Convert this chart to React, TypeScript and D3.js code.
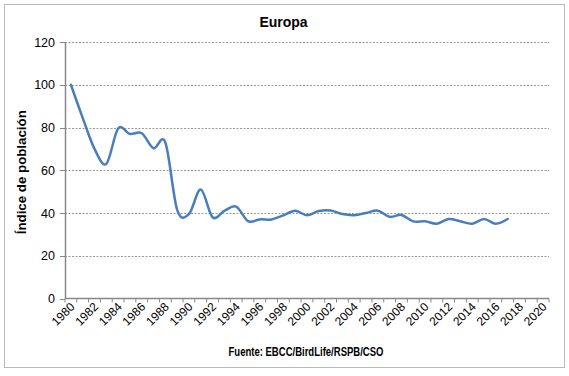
import React from "react";
import * as d3 from "d3";

const years: number[] = d3.range(1980, 2021);
const dataYears: number[] = d3.range(1980, 2018);
const values: number[] = [
  100, 84.5, 70, 63, 79.5, 77, 77.3, 70.3, 73, 41.5,
  39.5, 51, 38, 41, 43, 36.2, 37, 37, 38.9, 41,
  39, 40.9, 41.2, 39.5, 39, 40, 41.1, 38.2, 39.1, 36.1,
  36.1, 35, 37.2, 36.1, 35, 37.2, 35, 37.2,
];
const yTicks: number[] = [0, 20, 40, 60, 80, 100, 120];
const xLabelYears: number[] = years.filter((y) => y % 2 === 0);

const W = 569;
const H = 376;
const left = 65;
const right = 549;
const top = 42;
const bottom = 298.5;

export default function App() {
  const x = d3.scaleBand<number>().domain(years).range([left, right]).padding(0);
  const y = d3.scaleLinear().domain([0, 120]).range([bottom, top]);
  const cx = (yr: number) => (x(yr) as number) + x.bandwidth() / 2;
  const line = d3
    .line<number>()
    .x((_, i) => cx(dataYears[i]))
    .y((v) => y(v))
    .curve(d3.curveCatmullRom.alpha(0));
  const font = "Liberation Sans, Arial, sans-serif";
  const boundaries = d3.range(years.length + 1).map((k) => left + k * x.bandwidth());
  return (
    <svg width={W} height={H} style={{ position: "absolute", left: 0, top: 0 }} fontFamily={font}>
      <rect x={0} y={0} width={W} height={H} fill="#fff" />
      <rect x={4.5} y={4.5} width={560} height={363} fill="#fff" stroke="#b9b9b9" strokeWidth={1} />
      <text x={283.5} y={27} textAnchor="middle" fontWeight="bold" fontSize={14} fill="#000">
        Europa
      </text>
      {yTicks.filter((t) => t > 0).map((t) => (
        <line key={"g" + t} x1={left} x2={right} y1={Math.round(y(t)) + 0.5} y2={Math.round(y(t)) + 0.5}
          stroke="#9a9a9a" strokeWidth={1} strokeDasharray="2,1.5" />
      ))}
      {yTicks.map((t) => (
        <g key={"yt" + t}>
          <line x1={left - 5} x2={left} y1={Math.round(y(t)) + 0.5} y2={Math.round(y(t)) + 0.5} stroke="#888" strokeWidth={1} />
          <text x={55} y={y(t) + 4.5} textAnchor="end" fontSize={12.5} fill="#000">
            {t}
          </text>
        </g>
      ))}
      <line x1={left + 0.5} x2={left + 0.5} y1={top} y2={bottom} stroke="#888" strokeWidth={1.5} />
      <line x1={left} x2={right} y1={bottom} y2={bottom} stroke="#888" strokeWidth={1.5} />
      {boundaries.map((b, k) => (
        <line key={"xt" + k} x1={b} x2={b} y1={bottom} y2={bottom + 4} stroke="#888" strokeWidth={1} />
      ))}
      {xLabelYears.map((yr) => (
        <text key={"xl" + yr} transform={`translate(${cx(yr) + 4.5},${bottom + 9}) rotate(-45)`}
          textAnchor="end" fontSize={12} fill="#000">
          {yr}
        </text>
      ))}
      <text transform={`translate(26,${(top + bottom) / 2 + 2}) rotate(-90)`} textAnchor="middle"
        fontWeight="bold" fontSize={12.5} fill="#000" textLength={124} lengthAdjust="spacingAndGlyphs">
        Índice de población
      </text>
      <text x={306} y={356} textAnchor="middle" fontWeight="bold" fontSize={12} fill="#000"
        textLength={155} lengthAdjust="spacingAndGlyphs">
        Fuente: EBCC/BirdLife/RSPB/CSO
      </text>
      <path d={line(values) || ""} fill="none" stroke="#4A7EBB" strokeWidth={2.5} strokeLinejoin="round" strokeLinecap="round" />
    </svg>
  );
}
